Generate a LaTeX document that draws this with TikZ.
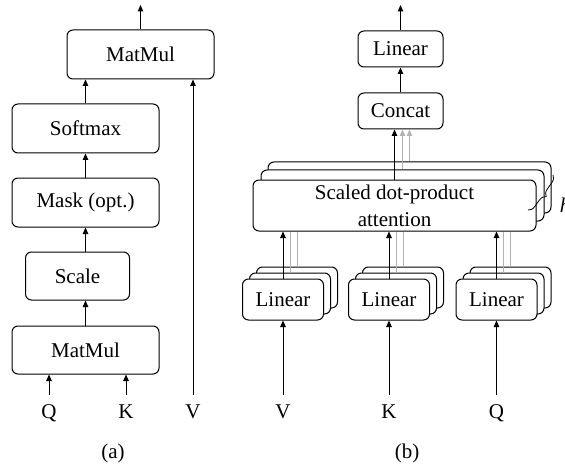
\documentclass[tikz,border=0pt]{standalone}
\usepackage{fontspec}
\setmainfont{Liberation Serif}
\usetikzlibrary{arrows.meta,decorations.pathreplacing}

\begin{document}
\begin{tikzpicture}[line width=1pt,>={Stealth[length=6.5pt,width=5.5pt,inset=0pt]},x=1pt,y=-1pt,font=\fontsize{21}{27}\selectfont,
	box/.style={draw,rounded corners=6pt,fill=white,inner sep=0pt,align=center},
	wide/.style={box,minimum width=147pt,minimum height=49pt},
	lin/.style={box,minimum width=81pt,minimum height=41pt},
	io/.style={inner xsep=2pt,inner ysep=9pt,text height=14pt,text depth=4pt},
	feed/.style={draw=black!30}]
	\useasboundingbox (0,0) rectangle (565,468);
	\path (140.5,5) coordinate (outa)
	(400.5,5) coordinate (outb);
	% (a) scaled dot-product attention
	\node[wide] (mmtop) at (140.5,54.5) {MatMul};
	\node[wide] (soft) at (85.5,128.5) {Softmax};
	\node[wide] (mask) at (85.5,202.5) {Mask (opt.)};
	\node[box,minimum width=104pt,minimum height=48pt] (scale) at (77.5,276) {Scale};
	\node[wide,minimum height=48pt] (mmbot) at (85.5,350) {MatMul};
	\foreach \t/\x in {Q/49,K/126,V/193}{
		\node[io] (in\t a) at (\x,413) {\t};
	}
	\draw[->] (inQa.north) -- (inQa.north |- mmbot.south);
	\draw[->] (inKa.north) -- (inKa.north |- mmbot.south);
	\draw[->] (inVa.north) -- (inVa.north |- mmtop.south);
	\draw[->] (mmbot.north) -- (mmbot.north |- scale.south);
	\draw[->] (scale.north -| mask.south) -- (mask.south);
	\draw[->] (mask) -- (soft);
	\draw[->] (soft.north) -- (soft.north |- mmtop.south);
	\draw[->] (mmtop.north) -- (outa);
	\node (capa) at (113,453) {(a)};
	% (b) multi-head attention
	\node[box,minimum width=85pt,minimum height=36pt] (linout) at (400.5,49) {Linear};
	\node[box,minimum width=85pt,minimum height=36pt] (concat) at (400.5,111) {Concat};
	\foreach \k/\dx/\dy in {3/15/-18,2/8/-10}{
		\node[box,minimum width=283pt,minimum height=51pt] (att\k) at (394.5+\dx,205.5+\dy) {};
	}
	\node[box,minimum width=283pt,minimum height=51pt] (att) at (394.5,205.5) {Scaled dot-product\\attention};
	\foreach \n/\t/\x in {V/V/283,K/K/389,Q/Q/496.5}{
		\foreach \k/\dx/\dy in {3/14/-12,2/7/-6}{
			\node[lin] (lin\n\k) at (\x+\dx,299.5+\dy) {};
		}
		\node[lin] (lin\n) at (\x,299.5) {Linear};
		\node[io] (in\t b) at (\x,413) {\t};
		\draw[->] (in\t b.north) -- (in\t b.north |- lin\n.south);
		\draw[->] (lin\n.north) -- (lin\n.north |- att.south);
		\draw[feed] (lin\n2.north) -- (lin\n2.north |- att.south);
		\draw[feed] (lin\n3.north) -- (lin\n3.north |- att.south);
	}
	\draw[->] (att.north) -- (att.north |- concat.south);
	\draw[->,feed] (att2.north) -- (att2.north |- concat.south);
	\draw[->,feed] (att3.north) -- (att3.north |- concat.south);
	\draw[->] (concat) -- (linout);
	\draw[->] (linout.north) -- (outb);
	\draw[line width=0.8pt,decorate,decoration={brace,amplitude=7pt}] (553,175) -- (528,210);
	\node[anchor=west] (heads) at (556,205) {\textit{h}};
	\node (capb) at (407,453) {(b)};
\end{tikzpicture}
\end{document}
